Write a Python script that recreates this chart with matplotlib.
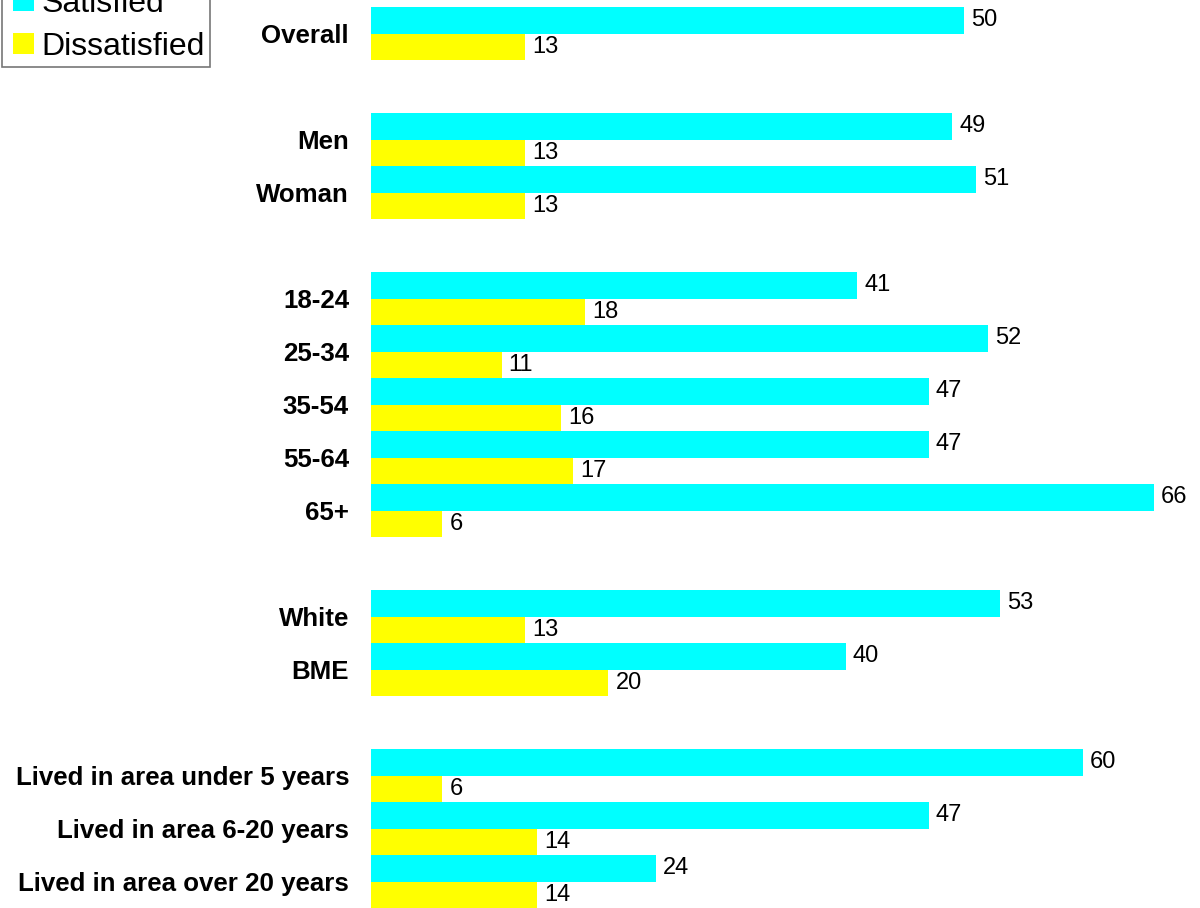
import matplotlib
matplotlib.use("Agg")
import matplotlib.pyplot as plt
from matplotlib.patches import Rectangle
from matplotlib.legend_handler import HandlerPatch

plt.rcParams['font.family'] = ['Liberation Sans', 'DejaVu Sans']

categories = ["Overall", "Men", "Woman", "18-24", "25-34", "35-54", "55-64", "65+",
              "White", "BME", "Lived in area under 5 years", "Lived in area 6-20 years",
              "Lived in area over 20 years"]
group_sizes = [1, 2, 5, 2, 3]
satisfied = [50, 49, 51, 41, 52, 47, 47, 66, 53, 40, 60, 47, 24]
dissatisfied = [13, 13, 13, 18, 11, 16, 17, 6, 13, 20, 6, 14, 14]
series_names = ["Satisfied", "Dissatisfied"]

# positions: one empty slot between groups
pos = []
p = 0
for g in group_sizes:
    for _ in range(g):
        pos.append(p)
        p += 1
    p += 1

fig = plt.figure(figsize=(12, 9.08), dpi=100)
ax = fig.add_axes([371/1200, 0, 1 - 371/1200, 1])

h = 0.5
b1 = ax.barh([y - h/2 for y in pos], satisfied, height=h, color="#00FFFF", label=series_names[0])
b2 = ax.barh([y + h/2 for y in pos], dissatisfied, height=h, color="#FFFF00", label=series_names[1])
ax.bar_label(b1, padding=5.2, fontsize=17)
ax.bar_label(b2, padding=5.2, fontsize=17)

ax.set_ylim(16.5, -0.5 - 7/53)
ax.set_xlim(0, 829/(783/66))
ax.set_yticks(pos)
ax.set_yticklabels(categories, fontweight="bold", fontsize=18.6)
ax.tick_params(axis="y", length=0, pad=15.8)
ax.set_xticks([])
for s in ax.spines.values():
    s.set_visible(False)


def offset_patch(legend, orig_handle, xdescent, ydescent, width, height, fontsize):
    off = 4.2
    return Rectangle((-xdescent + off, -ydescent), width - off, height)


handles = [b1.patches[0], b2.patches[0]]
handler = HandlerPatch(patch_func=offset_patch)
leg = fig.legend(handles=handles, labels=series_names, loc="lower left",
                 bbox_to_anchor=(2/1200, 1 - 67/908),
                 fontsize=23, frameon=True, fancybox=False, handlelength=0.84,
                 handleheight=0.66, handletextpad=0.22, labelspacing=0.40,
                 borderpad=0.17, borderaxespad=0, edgecolor="#555555",
                 handler_map={handles[0]: handler, handles[1]: handler})
leg.get_frame().set_linewidth(1.2)

fig.savefig("out.png", dpi=100)
